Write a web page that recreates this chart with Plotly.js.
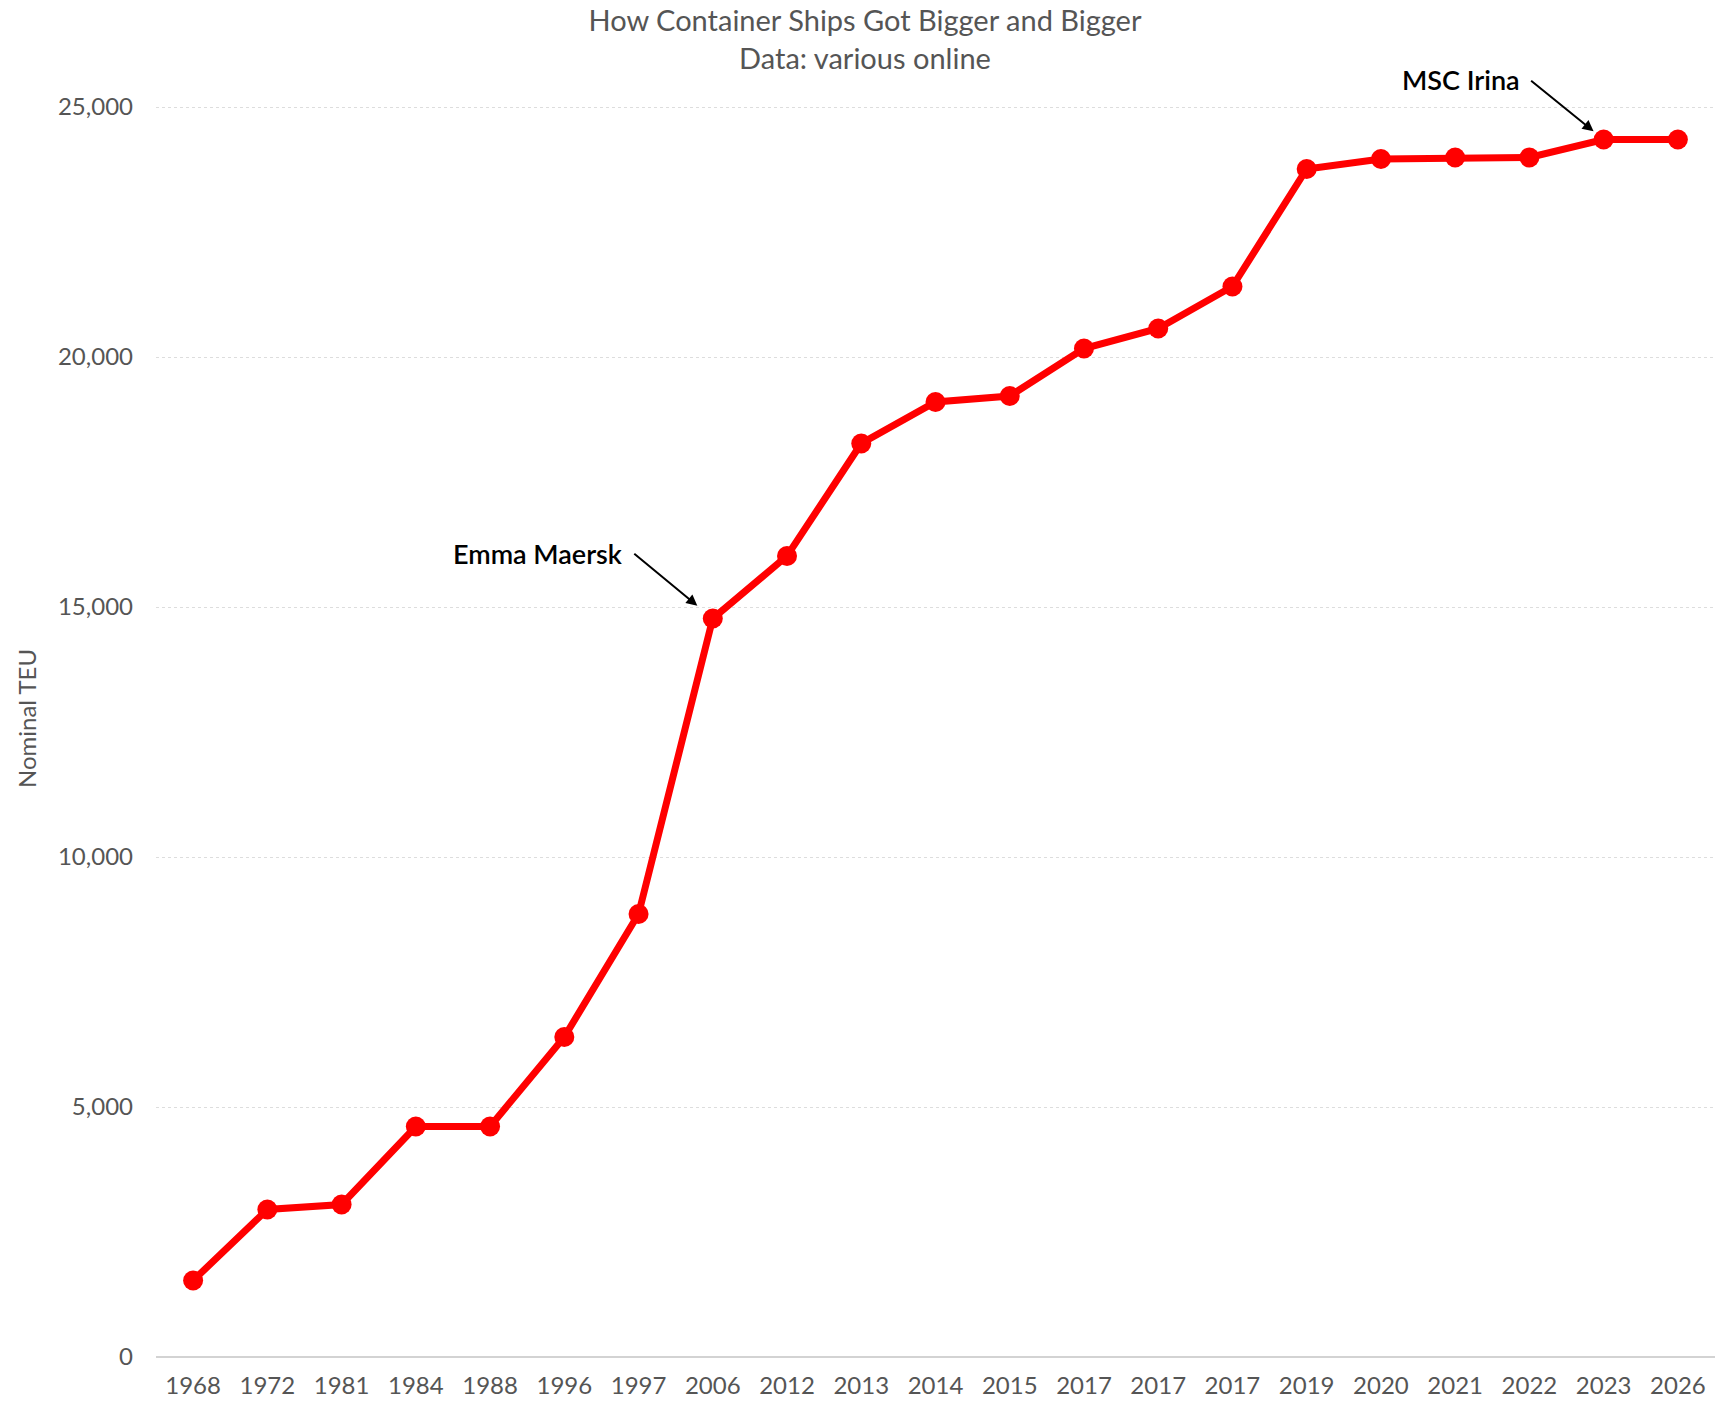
<!DOCTYPE html>
<html>
<head>
<meta charset="utf-8">
<script src="https://cdn.plot.ly/plotly-3.0.1.min.js"></script>
<style>
  html, body { margin: 0; padding: 0; background: #fff; }
  #chart { width: 1730px; height: 1416px; }
</style>
</head>
<body>
<div id="chart"></div>
<script>
// ship launch years (several 2017 entries, so the axis uses an index)
const years = ["1968", "1972", "1981", "1984", "1988", "1996", "1997", "2006", "2012", "2013",
  "2014", "2015", "2017", "2017", "2017", "2019", "2020", "2021", "2022", "2023", "2026"];
const teu = [1530, 2950, 3050, 4610, 4610, 6400, 8860, 14770, 16020, 18270,
  19100, 19220, 20170, 20570, 21410, 23760, 23960, 23990, 23990, 24350, 24350];
const yTicks = [0, 5000, 10000, 15000, 20000, 25000];
const yTickText = ["0", "5,000", "10,000", "15,000", "20,000", "25,000"];
const labelled = [
  { name: "Emma Maersk", idx: 7 },
  { name: "MSC Irina", idx: 19 },
];

const FONT = "Lato, 'Open Sans', sans-serif";
const idx = years.map((_, i) => i);

const annotations = [];
labelled.forEach((l) => {
  // label text, sitting up and to the left of the point
  annotations.push({
    x: l.idx, y: teu[l.idx], xref: "x", yref: "y",
    text: l.name, showarrow: false,
    xanchor: "right", yanchor: "middle",
    xshift: l.idx === 7 ? -88 : -82,
    yshift: l.idx === 7 ? 65 : 60,
    font: { family: FONT, size: 27, color: "#000", weight: 600 },
  });
  // arrow from label end to the point
  annotations.push({
    x: l.idx, y: teu[l.idx], xref: "x", yref: "y",
    text: "", showarrow: true,
    axref: "pixel", ayref: "pixel",
    ax: l.idx === 7 ? -80 : -74,
    ay: l.idx === 7 ? -66 : -60,
    standoff: l.idx === 7 ? 20 : 13,
    arrowhead: 2, arrowsize: 1.1, arrowwidth: 2, arrowcolor: "#000",
  });
});

Plotly.newPlot("chart", [
  {
    x: idx,
    y: teu,
    type: "scatter",
    mode: "lines+markers",
    line: { color: "#ff0000", width: 7 },
    marker: { color: "#ff0000", size: 20 },
    hoverinfo: "y",
  },
], {
  width: 1730,
  height: 1416,
  font: { family: FONT, color: "#555" },
  title: {
    text: "How Container Ships Got Bigger and Bigger<br>Data: various online",
    font: { size: 29, color: "#555" },
    x: 0.5, xanchor: "center",
    y: 0.978, yanchor: "top",
  },
  xaxis: {
    tickvals: idx,
    ticktext: years,
    range: [-0.5, years.length - 0.5],
    showgrid: false,
    zeroline: false,
    showline: false,
    ticks: "",
    ticklabelstandoff: 12,
    tickfont: { size: 24, color: "#555" },
  },
  yaxis: {
    range: [0, 25540],
    tickvals: yTicks,
    ticktext: yTickText,
    showgrid: true,
    gridcolor: "#dddddd",
    gridwidth: 1,
    griddash: "dot",
    zeroline: true,
    zerolinecolor: "#d3d3d3",
    zerolinewidth: 2,
    showline: false,
    ticks: "",
    ticklabelstandoff: 22,
    tickfont: { size: 24, color: "#555" },
    title: { text: "Nominal TEU", font: { size: 24, color: "#555" }, standoff: 14 },
  },
  annotations: annotations,
  showlegend: false,
  paper_bgcolor: "#fff",
  plot_bgcolor: "#fff",
  margin: { t: 80, l: 156, r: 15, b: 59 },
}, { displayModeBar: false });
</script>
</body>
</html>
